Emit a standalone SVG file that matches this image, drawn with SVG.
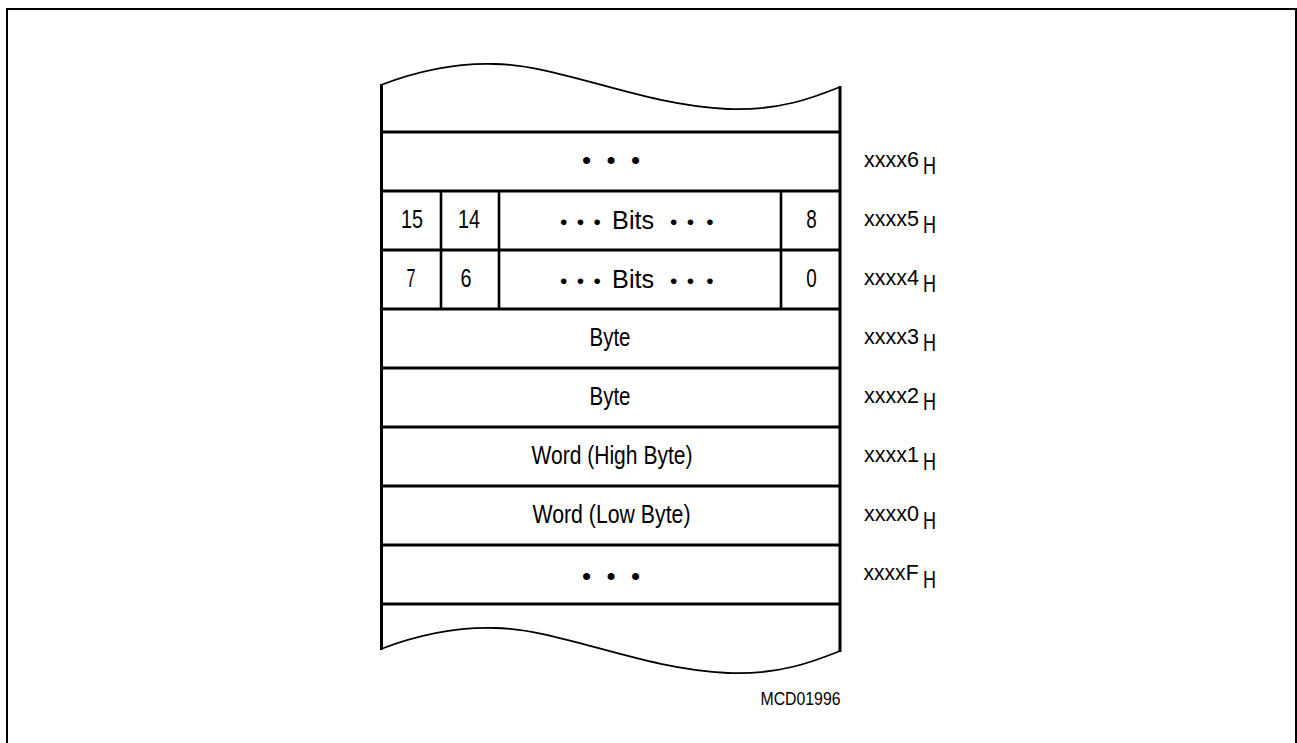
<svg xmlns="http://www.w3.org/2000/svg" width="1297" height="743" viewBox="0 0 1297 743">
<style>
.frame{fill:none;stroke:#000;stroke-width:2}
.edge{fill:none;stroke:#000;stroke-width:3}
.div{fill:none;stroke:#000;stroke-width:2.6}
.wave{fill:none;stroke:#000;stroke-width:1.8}
.t{font-family:"Liberation Sans",Arial,sans-serif;font-size:25px;fill:#000;text-anchor:middle}
.bits{font-family:"Liberation Sans",Arial,sans-serif;font-size:21px;fill:#000;text-anchor:middle}
.bw{font-size:25px}
.dots{font-family:"Liberation Sans",Arial,sans-serif;font-size:26px;fill:#000;text-anchor:middle}
.lab{font-family:"Liberation Sans",Arial,sans-serif;font-size:21.5px;fill:#000}
.sub{font-family:"Liberation Sans",Arial,sans-serif;font-size:24px;fill:#000}
.id{font-family:"Liberation Sans",Arial,sans-serif;font-size:18px;fill:#000;text-anchor:end}
</style>
<rect width="1297" height="743" fill="#fff"/>
<rect class="frame" x="7" y="9" width="1289" height="780"/>
<g id="memory-outline">
<path class="wave" d="M381,85 C420,70 460,63 495,64 C560,65 640,105 728,109 C780,111 815,97 840,87"/>
<path class="wave" d="M381,649 C420,634 460,627 495,628 C560,629 640,669 728,673 C780,675 815,661 840,651"/>
<line class="edge" x1="381.5" y1="84" x2="381.5" y2="650"/>
<line class="edge" x1="840" y1="86" x2="840" y2="652"/>
<g id="row-lines">
<line class="edge" x1="381" y1="132" x2="840" y2="132"/>
<line class="edge" x1="381" y1="191" x2="840" y2="191"/>
<line class="edge" x1="381" y1="250" x2="840" y2="250"/>
<line class="edge" x1="381" y1="309" x2="840" y2="309"/>
<line class="edge" x1="381" y1="368" x2="840" y2="368"/>
<line class="edge" x1="381" y1="427" x2="840" y2="427"/>
<line class="edge" x1="381" y1="486" x2="840" y2="486"/>
<line class="edge" x1="381" y1="545" x2="840" y2="545"/>
<line class="edge" x1="381" y1="604" x2="840" y2="604"/>
</g>
</g>
<g id="row-xxxx6">
<text class="dots" x="611" y="169" textLength="58" lengthAdjust="spacing">• • •</text>
<text class="lab" x="864" y="166.5" textLength="55" lengthAdjust="spacingAndGlyphs">xxxx6</text>
<text class="sub" x="923" y="174" textLength="13" lengthAdjust="spacingAndGlyphs">H</text>
</g>
<g id="row-xxxx5">
<line class="div" x1="441" y1="191" x2="441" y2="250"/>
<line class="div" x1="499" y1="191" x2="499" y2="250"/>
<line class="div" x1="781" y1="191" x2="781" y2="250"/>
<text class="t" x="412" y="228" textLength="22" lengthAdjust="spacingAndGlyphs">15</text>
<text class="t" x="469" y="228" textLength="22" lengthAdjust="spacingAndGlyphs">14</text>
<text class="bits" y="228.5"><tspan x="566.7">•</tspan> <tspan x="583.3">•</tspan> <tspan x="600">•</tspan> <tspan class="bw" x="636" textLength="42" lengthAdjust="spacingAndGlyphs">Bits</tspan> <tspan x="676.7">•</tspan> <tspan x="693.3">•</tspan> <tspan x="710">•</tspan></text>
<text class="t" x="811.5" y="228" textLength="10.5" lengthAdjust="spacingAndGlyphs">8</text>
<text class="lab" x="864" y="225.6" textLength="55" lengthAdjust="spacingAndGlyphs">xxxx5</text>
<text class="sub" x="923" y="233" textLength="13" lengthAdjust="spacingAndGlyphs">H</text>
</g>
<g id="row-xxxx4">
<line class="div" x1="441" y1="250" x2="441" y2="309"/>
<line class="div" x1="499" y1="250" x2="499" y2="309"/>
<line class="div" x1="781" y1="250" x2="781" y2="309"/>
<text class="t" x="411" y="287" textLength="9" lengthAdjust="spacingAndGlyphs">7</text>
<text class="t" x="466" y="287" textLength="11" lengthAdjust="spacingAndGlyphs">6</text>
<text class="bits" y="287.5"><tspan x="566.7">•</tspan> <tspan x="583.3">•</tspan> <tspan x="600">•</tspan> <tspan class="bw" x="636" textLength="42" lengthAdjust="spacingAndGlyphs">Bits</tspan> <tspan x="676.7">•</tspan> <tspan x="693.3">•</tspan> <tspan x="710">•</tspan></text>
<text class="t" x="811.5" y="287" textLength="10.5" lengthAdjust="spacingAndGlyphs">0</text>
<text class="lab" x="864" y="284.7" textLength="55" lengthAdjust="spacingAndGlyphs">xxxx4</text>
<text class="sub" x="923" y="292" textLength="13" lengthAdjust="spacingAndGlyphs">H</text>
</g>
<g id="row-xxxx3">
<text class="t" x="610" y="345.5" textLength="41" lengthAdjust="spacingAndGlyphs">Byte</text>
<text class="lab" x="864" y="343.8" textLength="55" lengthAdjust="spacingAndGlyphs">xxxx3</text>
<text class="sub" x="923" y="351.3" textLength="13" lengthAdjust="spacingAndGlyphs">H</text>
</g>
<g id="row-xxxx2">
<text class="t" x="610" y="405" textLength="41" lengthAdjust="spacingAndGlyphs">Byte</text>
<text class="lab" x="864" y="402.9" textLength="55" lengthAdjust="spacingAndGlyphs">xxxx2</text>
<text class="sub" x="923" y="410.4" textLength="13" lengthAdjust="spacingAndGlyphs">H</text>
</g>
<g id="row-xxxx1">
<text class="t" x="612" y="464" textLength="161" lengthAdjust="spacingAndGlyphs">Word (High Byte)</text>
<text class="lab" x="864" y="462" textLength="55" lengthAdjust="spacingAndGlyphs">xxxx1</text>
<text class="sub" x="923" y="469.5" textLength="13" lengthAdjust="spacingAndGlyphs">H</text>
</g>
<g id="row-xxxx0">
<text class="t" x="611.5" y="523" textLength="158" lengthAdjust="spacingAndGlyphs">Word (Low Byte)</text>
<text class="lab" x="864" y="521.1" textLength="55" lengthAdjust="spacingAndGlyphs">xxxx0</text>
<text class="sub" x="923" y="528.6" textLength="13" lengthAdjust="spacingAndGlyphs">H</text>
</g>
<g id="row-xxxxF">
<text class="dots" x="611" y="585" textLength="58" lengthAdjust="spacing">• • •</text>
<text class="lab" x="863.5" y="580.2" textLength="55" lengthAdjust="spacingAndGlyphs">xxxxF</text>
<text class="sub" x="923" y="587.7" textLength="13" lengthAdjust="spacingAndGlyphs">H</text>
</g>
<g id="figure-id">
<text class="id" x="840.5" y="705" textLength="80" lengthAdjust="spacingAndGlyphs">MCD01996</text>
</g>
</svg>
